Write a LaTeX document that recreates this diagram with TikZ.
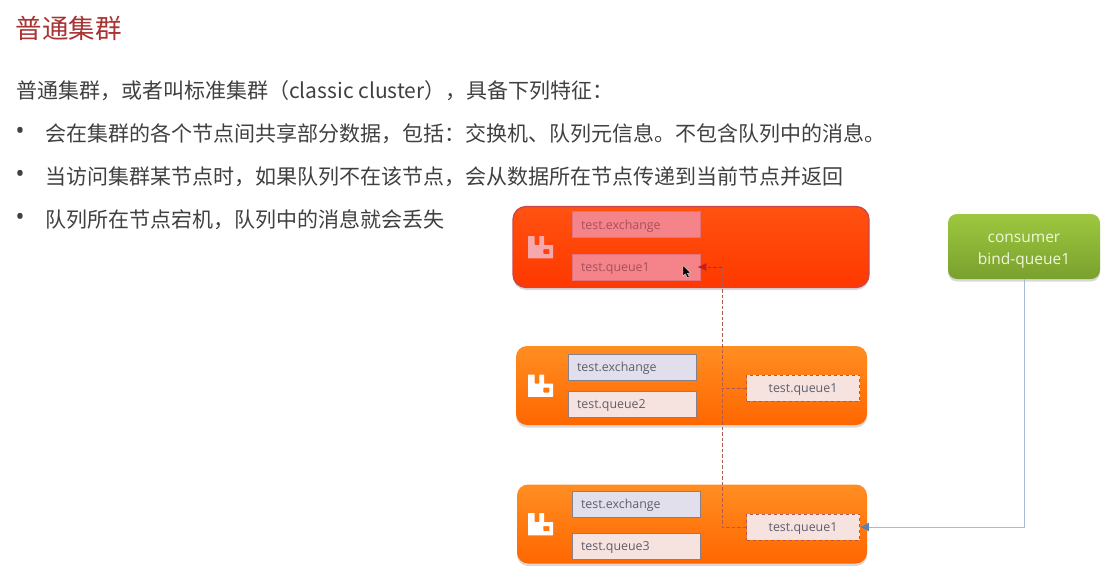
\documentclass[tikz,border=0pt]{standalone}
\usepackage{fontspec}
\setmainfont{Noto Sans CJK SC}
\newfontfamily\latinfont{Open Sans}
\usetikzlibrary{arrows.meta,shadows}
\definecolor{titlered}{HTML}{A93232}
\definecolor{bodygray}{HTML}{404040}
\definecolor{boxtext}{HTML}{5F5F6B}
\definecolor{dashred}{HTML}{B05A50}
\definecolor{tipred}{HTML}{C02020}
\definecolor{bindblue}{HTML}{A9BAD9}
\definecolor{tipblue}{HTML}{5B82B8}
\definecolor{orangetop}{HTML}{FF8E22}
\definecolor{orangelow}{HTML}{FF6600}
\definecolor{redtop}{HTML}{FF5210}
\definecolor{redlow}{HTML}{FF3800}
\definecolor{deadedge}{HTML}{C8484A}
\definecolor{boxedge}{HTML}{85808C}
\definecolor{exchangefill}{HTML}{E2DFEC}
\definecolor{localfill}{HTML}{F6E2DF}
\definecolor{deadbrd}{HTML}{E4707A}
\definecolor{deadfill}{HTML}{F4838A}
\definecolor{deadtext}{HTML}{A8505A}
\definecolor{greentop}{HTML}{9DC83F}
\definecolor{greenlow}{HTML}{7AA02E}
\definecolor{greentext}{HTML}{F0F6DC}
\tikzset{
	softshadow/.style={drop shadow={shadow xshift=0pt,shadow yshift=-2.5pt,opacity=.3}},
	line/.style={anchor=west,inner sep=0pt,text=bodygray,font=\fontsize{21}{25}\selectfont},
	bullet/.style={anchor=center,inner sep=0pt,text=bodygray,font=\latinfont\fontsize{25}{27}\selectfont},
	broker/.style={rounded corners=11pt,minimum width=#1,minimum height=79pt,inner sep=0pt,top color=orangetop,bottom color=orangelow,softshadow},
	deadbroker/.style={broker=#1,rounded corners=13pt,minimum height=81pt,top color=redtop,bottom color=redlow,draw=deadedge,line width=1.3pt},
	queuebox/.style={draw=boxedge,line width=.7pt,minimum width=128pt,minimum height=26pt,inner xsep=9pt,inner ysep=0pt,text width=110pt,text height=11pt,text depth=2pt,align=left,text=boxtext,font=\latinfont\fontsize{12.4}{15}\selectfont},
	exchangebox/.style={queuebox,fill=exchangefill},
	localbox/.style={queuebox,fill=localfill},
	mirrorbox/.style={queuebox,dashed,draw=dashred,fill=localfill,minimum width=113pt,text width=100pt,inner xsep=6pt,align=center},
	deadbox/.style={queuebox,draw=deadbrd,fill=deadfill,text=deadtext},
	consumerbox/.style={rounded corners=9pt,minimum width=152pt,minimum height=65pt,inner sep=0pt,top color=greentop,bottom color=greenlow,align=center,text=greentext,font=\latinfont\fontsize{15.5}{22}\selectfont,softshadow},
	fetchline/.style={dash pattern=on 3.5pt off 2pt,draw=dashred,line width=.9pt},
	fetcharrow/.style={fetchline,draw=tipred,-{Latex[length=9pt,width=8pt,color=tipred,fill=tipred]}},
	bindline/.style={draw=bindblue,line width=.9pt,-{Latex[length=9pt,width=9pt,color=tipblue,fill=tipblue]}},
	rabbit/.pic={\fill[pic actions,even odd rule,rounded corners=.5pt] (0,0) -- (6.7,0) -- (6.7,9) -- (11.3,9) -- (11.3,0) -- (16,0) -- (16,9) -- (25,9) -- (25,22.4) -- (0,22.4) -- cycle (15.3,13) rectangle (21.3,18);}
}
\begin{document}
\begin{tikzpicture}[x=1pt,y=-1pt]
	\useasboundingbox (0,0) rectangle (1108,571);
	\node (title) at (15.5,28.5) [line,text=titlered,font=\fontsize{26.5}{30}\selectfont] {普通集群};
	\node (intro) at (16,90.5) [line] {普通集群，或者叫标准集群（classic cluster），具备下列特征：};
	\node (dotA) at (20,133) [bullet] {•};
	\node (dotB) at (20,176) [bullet] {•};
	\node (dotC) at (20,219) [bullet] {•};
	\node (lineA) at (45,133.5) [line] {会在集群的各个节点间共享部分数据，包括：交换机、队列元信息。不包含队列中的消息。};
	\node (lineB) at (45,176.5) [line] {当访问集群某节点时，如果队列不在该节点，会从数据所在节点传递到当前节点并返回};
	\node (lineC) at (45,219.5) [line] {队列所在节点宕机，队列中的消息就会丢失};

	\node (nodeA) at (691,247) [deadbroker=356pt] {};
	\node (nodeB) at (691.5,385.5) [broker=351pt] {};
	\node (nodeC) at (692,524) [broker=350pt] {};
	\pic[fill=deadfill!70!white] at (528,236) {rabbit};
	\pic[fill=white] at (528,374.5) {rabbit};
	\pic[fill=white] at (528,513) {rabbit};

	\node (exA) at (636,224.5) [deadbox] {test.exchange};
	\node (qA) at (636,267) [deadbox] {test.queue1};
	\node (exB) at (632,367) [exchangebox] {test.exchange};
	\node (qB) at (632,404) [localbox] {test.queue2};
	\node (mirrorB) at (803,388) [mirrorbox] {test.queue1};
	\node (exC) at (636,504) [exchangebox] {test.exchange};
	\node (qC) at (636,546) [localbox] {test.queue3};
	\node (mirrorC) at (803,527) [mirrorbox] {test.queue1};
	\node (consumer) at (1024,246.5) [consumerbox] {\rule{0pt}{18pt}consumer\\bind-queue1};

	\coordinate (bendTop) at (722,267);
	\coordinate (bendMid) at (722,388);
	\coordinate (bendLow) at (722,527);
	\draw[fetchline] (mirrorC.west) -- (bendLow) -- (bendTop);
	\draw[fetcharrow,shorten >=-3pt] (bendTop) -- (qA.east);
	\draw[fetchline] (mirrorB.west) -- (bendMid);
	\coordinate (bendBind) at (consumer.south |- mirrorC.east);
	\draw[bindline] (consumer.south) -- (bendBind) -- (mirrorC.east);

	\fill[black,draw=white,line width=.3pt] (683,265.5) -- (683,276) -- (685.5,273.8) -- (687.5,278) -- (689.3,277.2) -- (687.3,273.2) -- (690.5,272.8) -- cycle;
\end{tikzpicture}
\end{document}
